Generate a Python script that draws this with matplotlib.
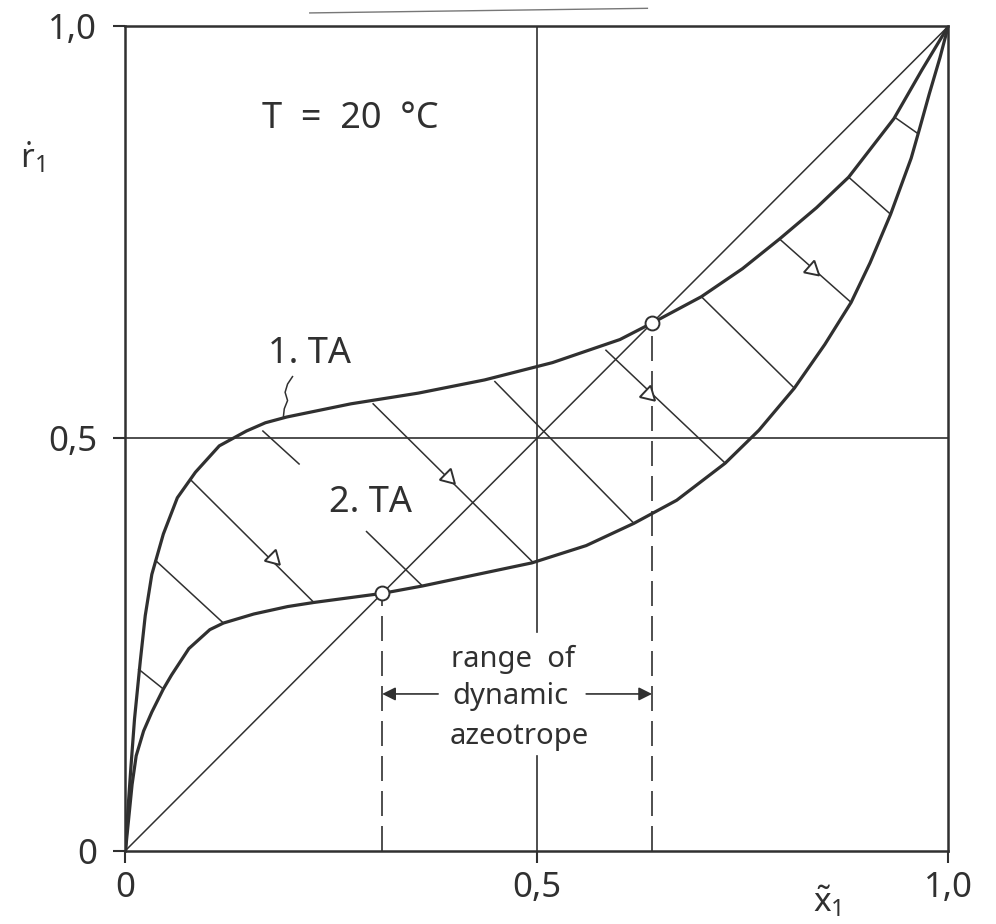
import math

import matplotlib
matplotlib.use("Agg")
import matplotlib.pyplot as plt
from matplotlib.lines import Line2D

plt.rcParams['font.family'] = ['Noto Sans', 'DejaVu Sans']
plt.rcParams['font.weight'] = 'light'
plt.rcParams['mathtext.fontset'] = 'custom'
plt.rcParams['mathtext.rm'] = 'Noto Sans:light'
plt.rcParams['mathtext.it'] = 'Noto Sans:light'

INK = '#303030'

# 1. TA (upper curve)
ta1_x = [0.0, 0.003, 0.0065, 0.011, 0.018, 0.024, 0.032, 0.046, 0.063, 0.085,
         0.114, 0.147, 0.17, 0.196, 0.274, 0.356, 0.4365, 0.519, 0.601, 0.64,
         0.70, 0.75, 0.795, 0.84, 0.879, 0.934, 0.968, 1.0]
ta1_y = [0.0, 0.05, 0.10, 0.16, 0.23, 0.285, 0.335, 0.384, 0.428, 0.459,
         0.491, 0.509, 0.519, 0.526, 0.542, 0.555, 0.571, 0.592, 0.620, 0.64,
         0.672, 0.706, 0.742, 0.780, 0.817, 0.888, 0.947, 1.0]

# 2. TA (lower curve)
ta2_x = [0.0, 0.004, 0.008, 0.013, 0.022, 0.032, 0.046, 0.056, 0.077, 0.1025,
         0.119, 0.156, 0.197, 0.229, 0.312, 0.361, 0.494, 0.56, 0.618, 0.67,
         0.729, 0.77, 0.813, 0.85, 0.882, 0.905, 0.930, 0.955, 0.965, 0.977,
         0.99, 1.0]
ta2_y = [0.0, 0.04, 0.08, 0.115, 0.145, 0.168, 0.196, 0.213, 0.245, 0.268,
         0.276, 0.287, 0.296, 0.301, 0.312, 0.321, 0.349, 0.37, 0.397, 0.425,
         0.47, 0.51, 0.561, 0.614, 0.665, 0.713, 0.772, 0.84, 0.875, 0.918,
         0.962, 1.0]

# azeotrope points (open circles)
azeo_x = [0.312, 0.64]
azeo_y = [0.312, 0.64]

# tie lines between the two curves: (x0, y0, x1, y1)
tie_lines = [
    (0.016, 0.220, 0.046, 0.196),
    (0.0365, 0.352, 0.119, 0.276),
    (0.080, 0.449, 0.229, 0.301),
    (0.167, 0.509, 0.211, 0.469),
    (0.293, 0.387, 0.361, 0.321),
    (0.301, 0.542, 0.495, 0.350),
    (0.449, 0.569, 0.618, 0.397),
    (0.584, 0.607, 0.729, 0.470),
    (0.700, 0.672, 0.813, 0.561),
    (0.795, 0.742, 0.882, 0.665),
    (0.879, 0.817, 0.930, 0.772),
    (0.936, 0.889, 0.963, 0.870),
]
# arrow heads sitting on some tie lines: (x, y, tie line index)
arrows = [(0.179, 0.355, 2), (0.392, 0.453, 5), (0.635, 0.554, 7), (0.835, 0.705, 9)]

xticks = [0.0, 0.5, 1.0]
xtick_labels = ['0', '0,5', '1,0']
yticks = [0.0, 0.5, 1.0]
ytick_labels = ['0', '0,5', '1,0']

fig = plt.figure(figsize=(9.96, 9.24), dpi=100)
ax = fig.add_axes([0.126, 0.0795, 0.826, 0.892])
ax.set_xlim(0, 1)
ax.set_ylim(0, 1)

for s in ax.spines.values():
    s.set_linewidth(1.8)
    s.set_color(INK)

ax.set_xticks(xticks)
ax.set_xticklabels(xtick_labels)
ax.set_yticks(yticks)
ax.set_yticklabels(ytick_labels)
ax.tick_params(direction='out', length=8.5, width=1.5, color=INK,
               labelsize=25, labelcolor=INK)
ax.tick_params(axis='y', pad=12)
ax.tick_params(axis='x', pad=6)

# helper lines: x = 0.5 (broken by the label), y = 0.5, diagonal
ax.plot([0.5, 0.5], [0.265, 1.0], color=INK, lw=1.2)
ax.plot([0.5, 0.5], [0.0, 0.115], color=INK, lw=1.2)
ax.plot([0, 1], [0.5, 0.5], color=INK, lw=1.2)
ax.plot([0, 1], [0, 1], color=INK, lw=1.1)

# tie lines
for x0, y0, x1, y1 in tie_lines:
    ax.plot([x0, x1], [y0, y1], color=INK, lw=1.1)

for x, y, k in arrows:
    x0, y0, x1, y1 = tie_lines[k]
    ang = math.degrees(math.atan2(y1 - y0, x1 - x0))
    ax.plot([x], [y], marker=(3, 0, ang - 90), ms=13, mfc='white',
            mec=INK, mew=1.4, zorder=4)

# the two curves
for xs, ys in [(ta1_x, ta1_y), (ta2_x, ta2_y)]:
    ax.plot(xs, ys, color=INK, lw=2.3, solid_capstyle='round',
            solid_joinstyle='round', zorder=3)

# dashed drop lines from the azeotropes
for x, y in zip(azeo_x, azeo_y):
    ax.plot([x, x], [0, y - 0.008], color=INK, lw=1.2, dashes=(15, 6))

ax.plot(azeo_x, azeo_y, 'o', ms=10, mfc='white', mec=INK, mew=1.4, zorder=5)

# range of dynamic azeotrope
ax.text(0.471, 0.232, 'range  of', fontsize=21, ha='center', va='center', color=INK)
ax.text(0.468, 0.187, 'dynamic', fontsize=21, ha='center', va='center', color=INK)
ax.text(0.479, 0.138, 'azeotrope', fontsize=21, ha='center', va='center', color=INK)
ax.annotate('', xy=(azeo_x[0], 0.19), xytext=(0.38, 0.19),
            arrowprops=dict(arrowstyle='-|>', color=INK, lw=1.2,
                            mutation_scale=20, shrinkA=0, shrinkB=0))
ax.annotate('', xy=(azeo_x[1], 0.19), xytext=(0.56, 0.19),
            arrowprops=dict(arrowstyle='-|>', color=INK, lw=1.2,
                            mutation_scale=20, shrinkA=0, shrinkB=0))

# labels in the plot
ax.text(0.273, 0.888, 'T  =  20  °C', fontsize=26, ha='center', va='center', color=INK)
ax.text(0.224, 0.602, '1. TA', fontsize=26, ha='center', va='center', color=INK)
ax.text(0.298, 0.422, '2. TA', fontsize=26, ha='center', va='center', color=INK)
ax.plot([0.203, 0.197, 0.194, 0.197, 0.193, 0.192],
        [0.575, 0.566, 0.556, 0.546, 0.536, 0.527], color=INK, lw=1.1)

# axis symbols
ax.text(-0.113, 0.84, r'$\dot{\mathrm{r}}_1$', fontsize=24, ha='center',
        va='center', color=INK, clip_on=False)
ax.text(0.853, -0.062, r'$\tilde{\mathrm{x}}_1$', fontsize=24, ha='center',
        va='center', color=INK, clip_on=False)

# remains of the cut caption underline at the top edge
fig.add_artist(Line2D([0.311, 0.65], [0.986, 0.991], color='#777777', lw=1.0))

fig.savefig('out.png', dpi=100, facecolor='white')
